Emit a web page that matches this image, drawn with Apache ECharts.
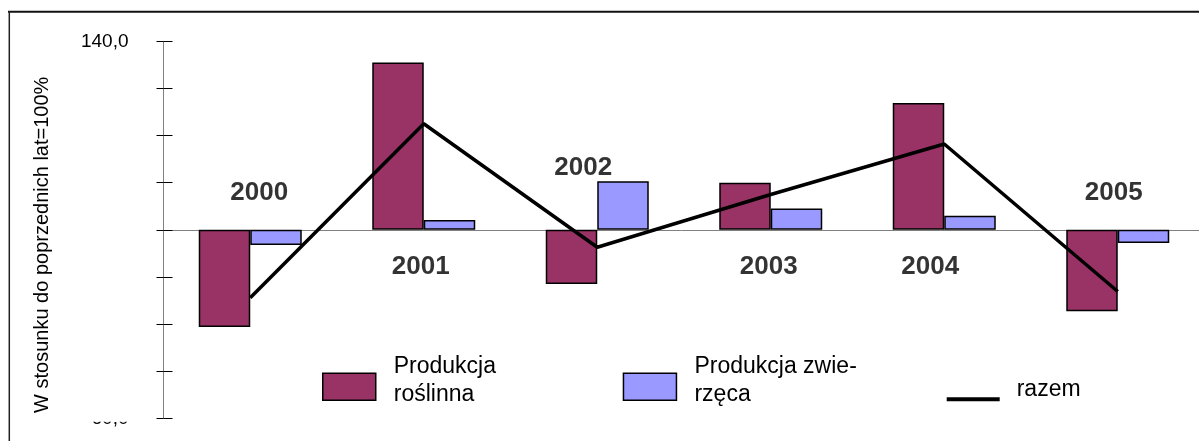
<!DOCTYPE html>
<html><head><meta charset="utf-8">
<script src="https://cdn.jsdelivr.net/npm/echarts@6/dist/echarts.min.js"></script>
<style>html,body{margin:0;padding:0;background:#fff}#c{width:1199px;height:441px}</style>
</head><body><div id="c"></div>
<script>
// ---- data ----
const years = ['2000', '2001', '2002', '2003', '2004', '2005'];
const roslinna = [79.4, 135.5, 88.5, 110.0, 126.9, 82.7];
const zwierzeca = [96.8, 102.1, 110.3, 104.5, 103.0, 97.2];
const razem = [85.6, 122.5, 96.3, 107.5, 118.2, 86.9];
const yearLabelLevel = [107.8, 92.1, 113.1, 92.2, 92.2, 107.8];
const yTickLabels = ['140,0', '60,0'];
const seriesNames = ['Produkcja roślinna', 'Produkcja zwierzęca', 'razem'];
const legendTexts = [['Produkcja', 'roślinna'], ['Produkcja zwie-', 'rzęca'], ['razem']];
const axisName = 'W stosunku do poprzednich lat=100%';
const base = 100, yMin = 60, yMax = 140, yStep = 10;

// ---- styles ----
const FONT = 'Liberation Sans, Arial, sans-serif';
const yearLabelDx = [9, -3, -14, -2, -14, -4];
const dev = arr => arr.map(v => +(v - base).toFixed(2));
const richLegend = lines => lines.map(l => '{a|' + l + '}').join('\n');
const legendRich = {a: {fontSize: 23, lineHeight: 28, color: '#000', fontFamily: FONT}};

const chart = echarts.init(document.getElementById('c'), null, {renderer: 'canvas'});
const tickFmt = v => {
  const r = Math.round(v + base);
  if (r === yMax) return yTickLabels[0];
  if (r === yMin) return yTickLabels[1];
  return '';
};

const option = {
  animation: false,
  backgroundColor: '#fff',
  textStyle: {fontFamily: FONT},
  grid: {left: 163.5, width: 1041, top: 41.3, bottom: 22.7, containLabel: false, outerBoundsMode: 'none'},
  xAxis: {
    type: 'category', data: years,
    axisLine: {show: true, onZero: true, lineStyle: {color: '#808080', width: 1}},
    axisTick: {show: false}, axisLabel: {show: false}, splitLine: {show: false}
  },
  yAxis: [{
    type: 'value', min: yMin - base, max: yMax - base, interval: yStep,
    axisLine: {show: true, lineStyle: {color: '#808080', width: 1}},
    axisTick: {show: true, length: 7, lineStyle: {color: '#000', width: 1}},
    splitLine: {show: false},
    axisLabel: {formatter: tickFmt, fontSize: 19, color: '#000', margin: 35, fontFamily: FONT},
    name: axisName, nameLocation: 'middle', nameGap: 111, nameRotate: 90,
    nameTextStyle: {fontSize: 20, color: '#000', fontFamily: FONT, padding: [0, 30, 0, 0]}
  }, {
    type: 'value', min: yMin - base, max: yMax - base, interval: yStep, position: 'left',
    axisLine: {show: false},
    axisTick: {show: true, inside: true, length: 9, lineStyle: {color: '#000', width: 1}},
    axisLabel: {show: false}, splitLine: {show: false}
  }],
  legend: [{
    data: [{name: seriesNames[0], icon: 'rect'}],
    left: 322, top: 352.8, padding: 0, itemWidth: 53, itemHeight: 27,
    selectedMode: false, formatter: () => richLegend(legendTexts[0]),
    itemStyle: {borderColor: '#000', borderWidth: 1.5},
    textStyle: {fontSize: 23, lineHeight: 28, color: '#000', fontFamily: FONT, padding: [0, 0, 12, 13], rich: legendRich}
  }, {
    data: [{name: seriesNames[1], icon: 'rect'}],
    left: 622.7, top: 352.8, padding: 0, itemWidth: 53, itemHeight: 27,
    selectedMode: false, formatter: () => richLegend(legendTexts[1]),
    itemStyle: {borderColor: '#000', borderWidth: 1.5},
    textStyle: {fontSize: 23, lineHeight: 28, color: '#000', fontFamily: FONT, padding: [0, 0, 12, 13], rich: legendRich}
  }, {
    data: [{name: seriesNames[2], icon: 'rect', itemStyle: {color: '#000', borderWidth: 0}}],
    left: 946.7, top: 375.3, padding: 0, itemWidth: 53, itemHeight: 4,
    selectedMode: false, formatter: () => richLegend(legendTexts[2]),
    textStyle: {fontSize: 23, lineHeight: 28, color: '#000', fontFamily: FONT, padding: [0, 0, 20, 12], rich: legendRich}
  }],
  series: [{
    name: seriesNames[0], type: 'bar', data: dev(roslinna),
    barWidth: 51.5, barGap: '0%',
    itemStyle: {color: '#993366', borderColor: '#000', borderWidth: 1.5}
  }, {
    name: seriesNames[1], type: 'bar', data: dev(zwierzeca),
    barWidth: 51.5, barGap: '0%',
    itemStyle: {color: '#9999FF', borderColor: '#000', borderWidth: 1.5}
  }, {
    name: seriesNames[2], type: 'line', data: dev(razem), z: 5,
    color: '#000', symbol: 'none', lineStyle: {color: '#000', width: 3.5}
  }, {
    name: 'lata', type: 'scatter', z: 6, silent: true,
    data: dev(yearLabelLevel).map((v, i) => ({value: v, label: {offset: [yearLabelDx[i], 0]}})),
    symbolSize: 1, itemStyle: {color: 'rgba(0,0,0,0)'},
    label: {show: true, position: 'inside', formatter: p => years[p.dataIndex],
      fontSize: 26, fontWeight: 'bold', color: '#000', fontFamily: FONT}
  }],
  graphic: [
    {type: 'line', shape: {x1: 8, y1: 11.8, x2: 1199, y2: 11.8}, style: {stroke: '#111', lineWidth: 2}, z: 50},
    {type: 'line', shape: {x1: 9.3, y1: 11, x2: 9.3, y2: 441}, style: {stroke: '#222', lineWidth: 1.5}, z: 50},
    {type: 'rect', shape: {x: 60, y: 400, width: 92, height: 21.7}, style: {fill: '#fff'}, z: 100}
  ]
};
chart.setOption(option);
</script>
</body></html>
